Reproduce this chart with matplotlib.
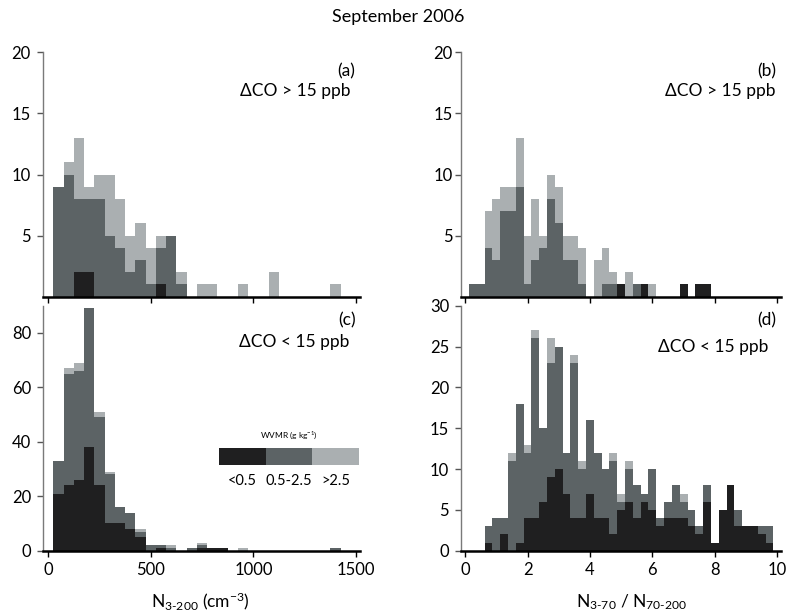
import numpy as np
import matplotlib
matplotlib.use("Agg")
import matplotlib.pyplot as plt

plt.rcParams['font.family'] = ['Lato', 'DejaVu Sans']
plt.rcParams['mathtext.fontset'] = 'custom'
plt.rcParams['mathtext.rm'] = 'Lato'
plt.rcParams['mathtext.it'] = 'Lato:italic'
plt.rcParams['mathtext.bf'] = 'Lato:bold'

# colours for the three WVMR classes
col_low = '#1f1f20'
col_mid = '#5c6365'
col_high = '#aaafb1'
wvmr_labels = ['<0.5', '0.5-2.5', '>2.5']

# N3-200 bins (cm-3), 50 wide
n_centers = np.arange(50, 1401, 50)
a_low = [0, 0, 2, 2, 0, 0, 0, 0, 0, 0, 1, 0, 0, 0, 0, 0, 0, 0, 0, 0, 0, 0, 0, 0, 0, 0, 0, 0]
a_mid = [9, 10, 6, 6, 8, 5, 4, 2, 3, 1, 3, 5, 1, 0, 0, 0, 0, 0, 0, 0, 0, 0, 0, 0, 0, 0, 0, 0]
a_high = [0, 1, 5, 1, 2, 5, 4, 3, 3, 3, 1, 0, 1, 0, 1, 1, 0, 0, 1, 0, 0, 2, 0, 0, 0, 0, 0, 1]

c_low = [21, 24, 26, 38, 24, 10, 10, 8, 5, 0, 1, 0, 0, 0, 1, 1, 1, 0, 0, 0, 0, 0, 0, 0, 0, 0, 0, 0]
c_mid = [12, 41, 40, 51, 25, 18, 6, 6, 2, 2, 1, 1, 0, 1, 1, 0, 0, 0, 0, 0, 0, 0, 0, 0, 0, 0, 0, 1]
c_high = [0, 2, 3, 0, 2, 1, 0, 0, 1, 0, 0, 1, 0, 0, 1, 0, 0, 0, 1, 0, 0, 0, 0, 0, 0, 0, 0, 0]

# N3-70 / N70-200 bins, 0.25 wide
b_centers = np.arange(0.25, 7.76, 0.25)
b_low = [0]*19 + [1, 0, 0, 1, 0, 0, 0, 0, 1, 0, 1, 1]
b_mid = [1, 1, 4, 3, 7, 7, 9, 1, 3, 4, 8, 6, 3, 3, 1, 0, 0, 1, 1, 0, 0, 1, 0, 0, 0, 0, 0, 0, 0, 0, 0]
b_high = [0, 0, 3, 5, 2, 2, 4, 4, 5, 1, 2, 3, 2, 2, 3, 0, 3, 3, 1, 0, 2, 0, 0, 1, 0, 0, 0, 0, 0, 0, 0]

d_centers = np.arange(0.75, 9.76, 0.25)
d_low = [1, 0, 2, 0, 1, 4, 4, 6, 9, 10, 7, 4, 4, 7, 4, 4, 2, 5, 6, 4, 6, 5, 3, 4, 4, 4, 3, 2, 6, 1, 5, 8, 3, 3, 3, 2, 1]
d_mid = [2, 4, 2, 11, 17, 8, 22, 9, 14, 15, 5, 19, 6, 9, 8, 6, 9, 1, 4, 4, 1, 5, 1, 2, 4, 2, 2, 1, 2, 0, 0, 0, 2, 0, 0, 1, 2]
d_high = [0, 0, 0, 1, 0, 1, 1, 0, 3, 0, 0, 1, 1, 0, 0, 0, 1, 1, 1, 0, 0, 0, 0, 0, 0, 1, 0, 0, 0, 0, 0, 0, 0, 0, 0, 0, 0]


def stacked(ax, centers, width, low, mid, high):
    edges = np.append(np.asarray(centers) - width / 2, centers[-1] + width / 2)
    low = np.array(low); mid = np.array(mid); high = np.array(high)
    # draw cumulative totals back to front so no seams show
    ax.stairs(low + mid + high, edges, fill=True, color=col_high, lw=0)
    ax.stairs(low + mid, edges, fill=True, color=col_mid, lw=0)
    ax.stairs(low, edges, fill=True, color=col_low, lw=0)


def style(ax, ypad, xlabels=True):
    ax.spines['top'].set_visible(False)
    ax.spines['right'].set_visible(False)
    ax.spines['left'].set_color('#7a7a7a')
    ax.spines['left'].set_linewidth(1.0)
    ax.spines['bottom'].set_linewidth(1.8)
    ax.tick_params(axis='x', direction='out', length=4.3, width=1, labelsize=12, pad=4,
                   labelbottom=xlabels)
    ax.tick_params(axis='y', direction='out', length=4.3, width=1, color='#555555',
                   labelsize=12, pad=ypad)


fig = plt.figure(figsize=(7.88, 6.13), dpi=100)
W, H = 788.0, 613.0

def px_axes(x0, x1, ytop, ybot):
    return fig.add_axes([x0 / W, 1 - ybot / H, (x1 - x0) / W, (ybot - ytop) / H])

ax_a = px_axes(42.7, 360, 52.3, 296.7)
ax_b = px_axes(460.7, 780.7, 52.3, 296.7)
ax_c = px_axes(42.7, 360, 305.7, 550.7)
ax_d = px_axes(460.7, 780.7, 305.7, 550.7)

stacked(ax_a, n_centers, 50, a_low, a_mid, a_high)
stacked(ax_c, n_centers, 50, c_low, c_mid, c_high)
stacked(ax_b, b_centers, 0.25, b_low, b_mid, b_high)
stacked(ax_d, d_centers, 0.25, d_low, d_mid, d_high)

for ax in (ax_a, ax_c):
    ax.set_xlim(-27, 1520)
    ax.set_xticks([0, 500, 1000, 1500])
for ax in (ax_b, ax_d):
    ax.set_xlim(-0.14, 10.11)
    ax.set_xticks([0, 2, 4, 6, 8, 10])

ax_a.set_ylim(0, 20); ax_a.set_yticks([5, 10, 15, 20])
ax_b.set_ylim(0, 20); ax_b.set_yticks([5, 10, 15, 20])
ax_c.set_ylim(0, 90); ax_c.set_yticks([0, 20, 40, 60, 80])
ax_d.set_ylim(0, 30); ax_d.set_yticks([0, 5, 10, 15, 20, 25, 30])

style(ax_a, 4.5, xlabels=False)
style(ax_b, 1.5, xlabels=False)
style(ax_c, 4)
style(ax_d, 4)

# panel letters and CO conditions
fs = 12.5
ax_a.text(0.984, 0.903, '(a)', transform=ax_a.transAxes, ha='right', va='baseline', fontsize=fs)
ax_a.text(0.969, 0.822, '\u0394CO > 15 ppb', transform=ax_a.transAxes, ha='right', va='baseline', fontsize=fs)
ax_b.text(0.987, 0.903, '(b)', transform=ax_b.transAxes, ha='right', va='baseline', fontsize=fs)
ax_b.text(0.985, 0.822, '\u0394CO > 15 ppb', transform=ax_b.transAxes, ha='right', va='baseline', fontsize=fs)
ax_c.text(0.987, 0.921, '(c)', transform=ax_c.transAxes, ha='right', va='baseline', fontsize=fs)
ax_c.text(0.968, 0.833, '\u0394CO < 15 ppb', transform=ax_c.transAxes, ha='right', va='baseline', fontsize=fs)
ax_d.text(0.987, 0.921, '(d)', transform=ax_d.transAxes, ha='right', va='baseline', fontsize=fs)
ax_d.text(0.963, 0.81, '\u0394CO < 15 ppb', transform=ax_d.transAxes, ha='right', va='baseline', fontsize=fs)

ax_c.text(0.496, -0.23, r'N$_{\mathrm{3\text{-}200}}$ (cm$^{\mathrm{-3}}$)', transform=ax_c.transAxes,
          ha='center', va='baseline', fontsize=12.5)
ax_d.text(0.534, -0.23, r'N$_{\mathrm{3\text{-}70}}$ / N$_{\mathrm{70\text{-}200}}$', transform=ax_d.transAxes,
          ha='center', va='baseline', fontsize=12.5)

fig.text(398 / W, 1 - 17 / H, 'September 2006', ha='center', va='center', fontsize=13)

# WVMR key inside panel (c)
key = px_axes(219, 359, 448, 465)
key.bar([0, 1, 2], [1, 1, 1], width=1.0, color=[col_low, col_mid, col_high], lw=0)
key.set_xlim(-0.5, 2.5)
key.set_ylim(0, 1)
key.axis('off')
for i, lab in enumerate(wvmr_labels):
    key.text(i, -0.95, lab, ha='center', va='center', fontsize=10.5)
key.text(1, 1.75, r'WVMR (g kg$^{\mathrm{-1}}$)', ha='center', va='center', fontsize=6)

fig.savefig('out.png', dpi=100)
